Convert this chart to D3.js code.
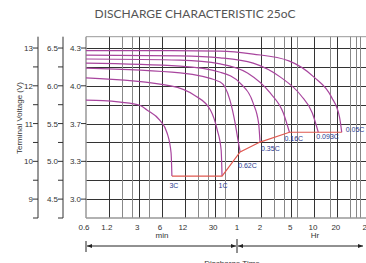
<!DOCTYPE html>
<html>
<head>
<meta charset="utf-8">
<script src="https://cdn.jsdelivr.net/npm/d3@7"></script>
<style>
  html, body { margin: 0; padding: 0; background: #fff; overflow: hidden; }
  svg { display: block; }
</style>
</head>
<body>
<div id="chart"></div>
<script>
// discharge rates and their curves, [minutes, volts of the 12V block]
const rates = ['3C', '1C', '0.62C', '0.35C', '0.16C', '0.093C', '0.05C'];

const curve3C = [[0.6, 11.62], [1, 11.61], [1.7, 11.57], [3.1, 11.48], [3.8, 11.36], [5.6, 11.09], [7, 10.75], [7.9, 10.22], [8.1, 9.61]];
const curve1C = [[0.6, 12.21], [7.8, 12.0], [16, 11.75], [26, 11.36], [32, 10.83], [36, 10.3], [37, 9.61]];
const curve062C = [[0.6, 12.47], [10.4, 12.34], [35, 12.1], [47, 11.62], [55, 11.01], [60, 10.56], [64, 10.25]];
const curve035C = [[0.6, 12.6], [10.4, 12.52], [35, 12.36], [64, 12.07], [95, 11.54], [112, 11.01], [117, 10.51]];
const curve016C = [[0.6, 12.71], [10.4, 12.68], [35, 12.58], [80, 12.34], [159, 11.81], [237, 11.28], [285, 10.77]];
const curve0093C = [[0.6, 12.81], [10.4, 12.79], [35, 12.74], [95, 12.6], [217, 12.23], [402, 11.75], [570, 11.28], [683, 10.77]];
const curve005C = [[0.6, 12.93], [4.2, 12.93], [35, 12.92], [95, 12.84], [280, 12.66], [600, 12.23], [1020, 11.7], [1300, 11.17], [1390, 10.77]];

const curves = [curve3C, curve1C, curve062C, curve035C, curve016C, curve0093C, curve005C];

// axis ticks
const voltTicks = [13, 12, 11, 10, 9];
const volt6Labels = ['6.5', '6.0', '5.5', '5.0', '4.5'];
const cellLabels = ['4.3', '4.0', '3.7', '3.3', '3.0'];
const minorVolts = [12.5, 11.5, 10.5, 9.5, 8.5];

const minTicks = [0.6, 1.2, 3, 6, 12, 30];
const minLabels = ['0.6', '1.2', '3', '6', '12', '30'];
const hrTicks = [1, 2, 5, 10, 20, 48];
const hrLabels = ['1', '2', '5', '10', '20', '2'];

// grid lines of time, in minutes then hours
const gridMin = [1.2, 1.8, 2.4, 3, 4, 6, 12, 18, 24, 30, 40];
const gridHr = [1, 2, 3, 4, 5, 6, 10, 16, 20, 30, 36, 40];

const W = 366, H = 263;
const plotLeft = 86, plotTop = 36.7, plotBottom = 218;

const svg = d3.select('#chart')
              .append('svg')
              .attr('width', W)
              .attr('height', H);

const x = d3.scaleLog()
            .domain([0.6, 3000])
            .range([plotLeft, plotLeft + 76 * Math.log10(5000)]);

const y = d3.scaleLinear()
            .domain([8.5, 13.3])
            .range([plotBottom, plotTop]);

// title
svg.append('text')
   .attr('x', 195)
   .attr('y', 18)
   .attr('text-anchor', 'middle')
   .style('font-family', 'Lato, sans-serif')
   .style('font-size', '12px')
   .style('fill', '#555')
   .text('DISCHARGE CHARACTERISTIC 25oC');

// grid
const grid = svg.append('g');

grid.selectAll('.hgrid')
    .data(voltTicks.concat(minorVolts.slice(0, 4)))
    .enter()
    .append('line')
    .attr('x1', plotLeft)
    .attr('x2', W)
    .attr('y1', d => Math.round(y(d)) + 0.5)
    .attr('y2', d => Math.round(y(d)) + 0.5)
    .style('stroke', '#333')
    .style('stroke-width', 1);

const vgrid = gridMin.concat(gridHr.map(h => h * 60));
const labelled = minTicks.concat(hrTicks.map(h => h * 60));

grid.selectAll('.vgrid')
    .data(vgrid)
    .enter()
    .append('line')
    .attr('x1', d => Math.round(x(d)) + 0.5)
    .attr('x2', d => Math.round(x(d)) + 0.5)
    .attr('y1', plotTop)
    .attr('y2', plotBottom)
    .style('stroke', d => labelled.includes(d) ? '#333' : '#888')
    .style('stroke-width', 1);

// frame
grid.append('line')
    .attr('x1', plotLeft).attr('x2', W)
    .attr('y1', plotTop).attr('y2', plotTop)
    .style('stroke', '#999');
grid.append('line')
    .attr('x1', plotLeft).attr('x2', W)
    .attr('y1', plotBottom).attr('y2', plotBottom)
    .style('stroke', '#999')
    .style('stroke-width', 1.5);
grid.append('line')
    .attr('x1', plotLeft).attr('x2', plotLeft)
    .attr('y1', plotTop).attr('y2', plotBottom)
    .style('stroke', '#999')
    .style('stroke-width', 1.5);

// left voltage axes
const axisDefs = [
  { pos: 38, labels: voltTicks.map(String) },
  { pos: 63, labels: volt6Labels },
  { pos: plotLeft, labels: cellLabels }
];

axisDefs.forEach((a, k) => {
  const g = svg.append('g');
  if (k < 2) {
    g.append('line')
     .attr('x1', a.pos).attr('x2', a.pos)
     .attr('y1', plotTop).attr('y2', plotBottom)
     .style('stroke', '#333');
  }
  g.selectAll('.major')
   .data(voltTicks)
   .enter()
   .append('line')
   .attr('x1', a.pos - 5).attr('x2', a.pos)
   .attr('y1', d => y(d)).attr('y2', d => y(d))
   .style('stroke', '#333');
  if (k < 2) {
    g.selectAll('.minor')
     .data(minorVolts)
     .enter()
     .append('line')
     .attr('x1', a.pos - 5).attr('x2', a.pos)
     .attr('y1', d => y(d)).attr('y2', d => y(d))
     .style('stroke', '#333');
  }
  g.selectAll('text')
   .data(voltTicks)
   .enter()
   .append('text')
   .attr('x', a.pos - 5)
   .attr('y', d => y(d) + 3)
   .attr('text-anchor', 'end')
   .style('font-family', 'Liberation Sans, Arial, sans-serif')
   .style('font-size', '8px')
   .style('fill', '#333')
   .text((d, i) => a.labels[i]);
});

svg.append('text')
   .attr('transform', 'translate(22, 118) rotate(-90)')
   .attr('text-anchor', 'middle')
   .style('font-family', 'Liberation Sans, Arial, sans-serif')
   .style('font-size', '8px')
   .style('fill', '#333')
   .text('Terminal Voltage  (V)');

// time labels
const tickG = svg.append('g')
                 .style('font-family', 'Liberation Sans, Arial, sans-serif')
                 .style('font-size', '8px')
                 .style('fill', '#333');

tickG.selectAll('.tmin')
     .data(minTicks)
     .enter()
     .append('text')
     .attr('x', d => x(d) - 2)
     .attr('y', 230)
     .attr('text-anchor', 'middle')
     .text((d, i) => minLabels[i]);

tickG.selectAll('.thr')
     .data(hrTicks)
     .enter()
     .append('text')
     .attr('x', d => x(d * 60) - 1)
     .attr('y', 230)
     .attr('text-anchor', 'middle')
     .text((d, i) => hrLabels[i]);

// min / Hr arrows
const arrowY = 246;
const split = x(60) - 1;
const ann = svg.append('g').style('stroke', '#222');

svg.append('defs').append('marker')
   .attr('id', 'arrow')
   .attr('viewBox', '0 0 10 10')
   .attr('refX', 10).attr('refY', 5)
   .attr('markerWidth', 7).attr('markerHeight', 5)
   .attr('orient', 'auto-start-reverse')
   .append('path')
   .attr('d', 'M0,1 L10,5 L0,9 Z')
   .style('fill', '#222');

ann.append('line')
   .attr('x1', plotLeft).attr('x2', plotLeft)
   .attr('y1', 241).attr('y2', 252);
ann.append('line')
   .attr('x1', split).attr('x2', split)
   .attr('y1', 239).attr('y2', 253);
ann.append('line')
   .attr('x1', plotLeft + 1).attr('x2', split - 1)
   .attr('y1', arrowY).attr('y2', arrowY)
   .attr('marker-start', 'url(#arrow)')
   .attr('marker-end', 'url(#arrow)');
ann.append('line')
   .attr('x1', split + 1).attr('x2', 363)
   .attr('y1', arrowY).attr('y2', arrowY)
   .attr('marker-start', 'url(#arrow)')
   .attr('marker-end', 'url(#arrow)');

tickG.append('text').attr('x', 162).attr('y', 238).attr('text-anchor', 'middle').text('min');
tickG.append('text').attr('x', 315).attr('y', 238).attr('text-anchor', 'middle').text('Hr');
tickG.append('text').attr('x', 232).attr('y', 266).attr('text-anchor', 'middle').text('Discharge Time');

// curves
const line = d3.line()
               .x(d => x(d[0]))
               .y(d => y(d[1]))
               .curve(d3.curveMonotoneX);

svg.append('g')
   .selectAll('path')
   .data(curves)
   .enter()
   .append('path')
   .attr('d', line)
   .style('fill', 'none')
   .style('stroke', '#a8459e')
   .style('stroke-width', 1.2);

// end voltage line
const ends = curves.map(c => c[c.length - 1]);

svg.append('path')
   .attr('d', d3.line().x(d => x(d[0])).y(d => y(d[1]))(ends))
   .style('fill', 'none')
   .style('stroke', '#e0584f')
   .style('stroke-width', 1.2);

// rate labels
const labelOffsets = [[2, 12, 'middle'], [1, 12, 'middle'], [-2, 16, 'start'], [1, 9, 'start'], [-5, 9, 'start'], [-2, 7, 'start'], [4, 0, 'start']];

svg.append('g')
   .selectAll('text')
   .data(ends)
   .enter()
   .append('text')
   .attr('x', (d, i) => x(d[0]) + labelOffsets[i][0])
   .attr('y', (d, i) => y(d[1]) + labelOffsets[i][1])
   .attr('text-anchor', (d, i) => labelOffsets[i][2])
   .style('font-family', 'Liberation Sans, Arial, sans-serif')
   .style('font-size', '7px')
   .style('fill', '#2b3990')
   .text((d, i) => rates[i]);
</script>
</body>
</html>
